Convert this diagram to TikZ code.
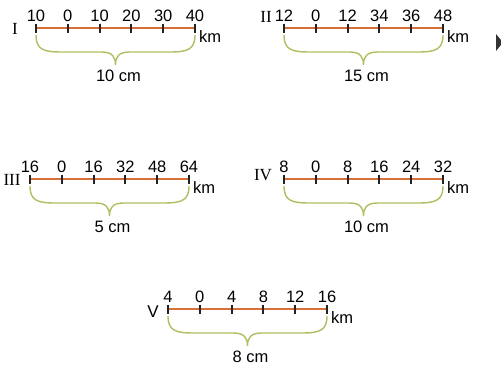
\documentclass[tikz,border=0pt]{standalone}
\usepackage{fontspec}
\setmainfont{Liberation Serif}
\setsansfont{Liberation Sans}
\usetikzlibrary{positioning,calc}
\definecolor{BarOrange}{RGB}{214,112,52}
\definecolor{BraceGreen}{RGB}{176,190,96}
\definecolor{TickGray}{RGB}{35,35,35}
\tikzset{
	bar/.style={draw=BarOrange,line width=2.2pt},
	tickmark/.style={draw=TickGray,line width=2pt},
	num/.style={font=\sffamily\fontsize{16.5}{16.5}\selectfont,inner sep=0pt,anchor=base},
	unit/.style={font=\sffamily\fontsize{16.5}{16.5}\selectfont,inner sep=0pt,anchor=base west},
	numeral/.style={font=\fontsize{17}{17}\selectfont,inner sep=0pt},
	brace/.style={draw=BraceGreen,line width=1.4pt},
}

\begin{document}
\begin{tikzpicture}[x=1pt,y=-1pt]
	\useasboundingbox (0,0) rectangle (501,370);
	\foreach \n/\x/\y/\rx/\ry/\rn/\labs/\len in {
		a/36/28/15/29/I/{10,0,10,20,30,40}/10,
		b/284/28/266/17/II/{12,0,12,34,36,48}/15,
		c/30/179/12/180/III/{16,0,16,32,48,64}/5,
		d/284/179/263/175/IV/{8,0,8,16,24,32}/10,
		e/168/309/153/312/{\sffamily V}/{4,0,4,8,12,16}/8}
	{
		\coordinate (\n-l) at (\x,\y);
		\coordinate (\n-r) at ($(\n-l)+(159,0)$);
		\coordinate (\n-m) at ($(\n-l)+(79.5,37)$);
		\draw[bar] (\n-l)--(\n-r);
		\foreach \t [count=\i from 0] in \labs {
			\coordinate (\n-t\i) at ($(\n-l)+(\i*31.8,0)$);
			\draw[tickmark] ($(\n-t\i)+(0,-4.5)$)--($(\n-t\i)+(0,5)$);
			\node[num] (\n-v\i) at ($(\n-t\i)+(0,-7)$) {\t};
		}
		\node[unit] (\n-km) at ($(\n-r)+(4,14)$) {km};
		\node[numeral] (\n-no) at (\rx,\ry) {\rn};
		% curly brace under the bar
		\draw[brace] ($(\n-l)+(0,7)$) .. controls ($(\n-l)+(0,22)$) and ($(\n-l)+(8,24)$) .. ($(\n-l)+(26,24)$)
			-- ($(\n-m)+(-14,-13)$) .. controls ($(\n-m)+(-3,-13)$) and ($(\n-m)+(0,-8)$) .. (\n-m)
			.. controls ($(\n-m)+(0,-8)$) and ($(\n-m)+(3,-13)$) .. ($(\n-m)+(14,-13)$)
			-- ($(\n-r)+(-26,24)$) .. controls ($(\n-r)+(-8,24)$) and ($(\n-r)+(0,22)$) .. ($(\n-r)+(0,7)$);
		\node[num,anchor=center] (\n-cm) at ($(\n-m)+(3,11)$) {\len{} cm};
	}
	\fill[black!80] (496,34)--(503,42.5)--(496,51)--cycle;
\end{tikzpicture}
\end{document}
